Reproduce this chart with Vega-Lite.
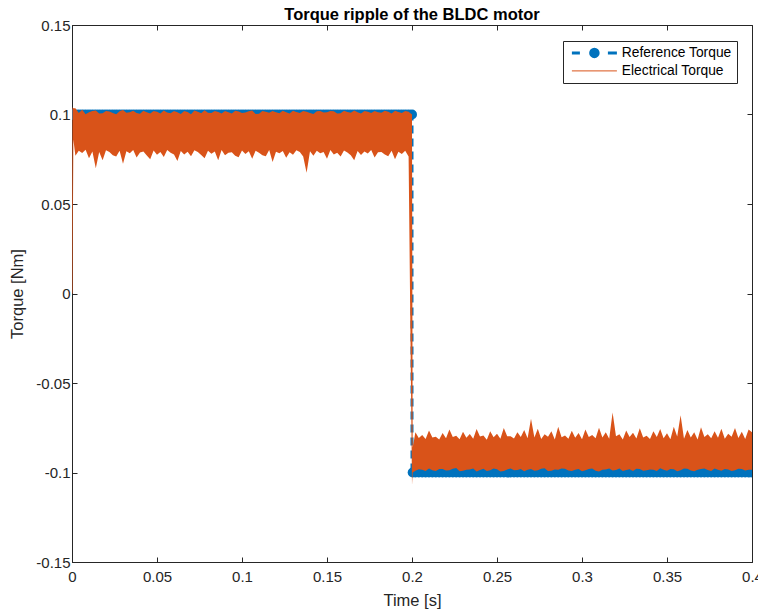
{
  "$schema": "https://vega.github.io/schema/vega-lite/v6.json",
  "autosize": "none",
  "width": 680,
  "height": 537,
  "padding": {"left": 72, "top": 25, "right": 6, "bottom": 54},
  "background": "white",
  "title": {"text": "Torque ripple of the BLDC motor", "font": "Liberation Sans", "fontSize": 16.5, "fontWeight": "bold", "color": "black", "anchor": "middle", "baseline": "alphabetic", "offset": -18},
  "datasets": {
    "refline": [
      {"t": 0, "ref": 0.1, "k": 1},
      {"t": 0.2, "ref": 0.1, "k": 2},
      {"t": 0.2, "ref": -0.1, "k": 3},
      {"t": 0.4, "ref": -0.1, "k": 4}
    ],
    "elec": [
      {"t": 0, "ref": 0.1, "lo": 0, "hi": 0},
      {"t": 0.0003, "ref": 0.1, "lo": 0, "hi": 0.104},
      {"t": 0.0008, "ref": 0.1, "lo": 0.086, "hi": 0.1035},
      {"t": 0.002, "ref": 0.1, "lo": 0.077, "hi": 0.1035},
      {"t": 0.004, "ref": 0.1, "lo": 0.0797, "hi": 0.1009},
      {"t": 0.006, "ref": 0.1, "lo": 0.0785, "hi": 0.1027},
      {"t": 0.008, "ref": 0.1, "lo": 0.0803, "hi": 0.1002},
      {"t": 0.010, "ref": 0.1, "lo": 0.0755, "hi": 0.1012},
      {"t": 0.012, "ref": 0.1, "lo": 0.0793, "hi": 0.1019},
      {"t": 0.014, "ref": 0.1, "lo": 0.070, "hi": 0.1022},
      {"t": 0.016, "ref": 0.1, "lo": 0.079, "hi": 0.1005},
      {"t": 0.018, "ref": 0.1, "lo": 0.0745, "hi": 0.1007},
      {"t": 0.020, "ref": 0.1, "lo": 0.080, "hi": 0.102},
      {"t": 0.022, "ref": 0.1, "lo": 0.079, "hi": 0.1017},
      {"t": 0.024, "ref": 0.1, "lo": 0.0773, "hi": 0.1008},
      {"t": 0.026, "ref": 0.1, "lo": 0.0765, "hi": 0.1002},
      {"t": 0.028, "ref": 0.1, "lo": 0.0798, "hi": 0.1018},
      {"t": 0.030, "ref": 0.1, "lo": 0.0725, "hi": 0.1025},
      {"t": 0.032, "ref": 0.1, "lo": 0.0794, "hi": 0.101},
      {"t": 0.034, "ref": 0.1, "lo": 0.0783, "hi": 0.1012},
      {"t": 0.036, "ref": 0.1, "lo": 0.0801, "hi": 0.1021},
      {"t": 0.038, "ref": 0.1, "lo": 0.076, "hi": 0.1009},
      {"t": 0.040, "ref": 0.1, "lo": 0.0788, "hi": 0.1004},
      {"t": 0.042, "ref": 0.1, "lo": 0.0793, "hi": 0.1021},
      {"t": 0.044, "ref": 0.1, "lo": 0.0771, "hi": 0.1013},
      {"t": 0.046, "ref": 0.1, "lo": 0.075, "hi": 0.1005},
      {"t": 0.048, "ref": 0.1, "lo": 0.0799, "hi": 0.1019},
      {"t": 0.050, "ref": 0.1, "lo": 0.0775, "hi": 0.1015},
      {"t": 0.052, "ref": 0.1, "lo": 0.0791, "hi": 0.1006},
      {"t": 0.054, "ref": 0.1, "lo": 0.0763, "hi": 0.1023},
      {"t": 0.056, "ref": 0.1, "lo": 0.0802, "hi": 0.1011},
      {"t": 0.058, "ref": 0.1, "lo": 0.0787, "hi": 0.1007},
      {"t": 0.060, "ref": 0.1, "lo": 0.0776, "hi": 0.102},
      {"t": 0.062, "ref": 0.1, "lo": 0.074, "hi": 0.1013},
      {"t": 0.064, "ref": 0.1, "lo": 0.0796, "hi": 0.1003},
      {"t": 0.066, "ref": 0.1, "lo": 0.0777, "hi": 0.1019},
      {"t": 0.068, "ref": 0.1, "lo": 0.0792, "hi": 0.1014},
      {"t": 0.070, "ref": 0.1, "lo": 0.0767, "hi": 0.1002},
      {"t": 0.072, "ref": 0.1, "lo": 0.080, "hi": 0.1022},
      {"t": 0.074, "ref": 0.1, "lo": 0.0791, "hi": 0.1016},
      {"t": 0.076, "ref": 0.1, "lo": 0.0774, "hi": 0.1007},
      {"t": 0.078, "ref": 0.1, "lo": 0.0755, "hi": 0.1024},
      {"t": 0.080, "ref": 0.1, "lo": 0.0798, "hi": 0.101},
      {"t": 0.082, "ref": 0.1, "lo": 0.0781, "hi": 0.1008},
      {"t": 0.084, "ref": 0.1, "lo": 0.0793, "hi": 0.102},
      {"t": 0.086, "ref": 0.1, "lo": 0.0745, "hi": 0.1014},
      {"t": 0.088, "ref": 0.1, "lo": 0.0801, "hi": 0.1005},
      {"t": 0.090, "ref": 0.1, "lo": 0.0773, "hi": 0.102},
      {"t": 0.092, "ref": 0.1, "lo": 0.0786, "hi": 0.1012},
      {"t": 0.094, "ref": 0.1, "lo": 0.0789, "hi": 0.1006},
      {"t": 0.096, "ref": 0.1, "lo": 0.077, "hi": 0.1021},
      {"t": 0.098, "ref": 0.1, "lo": 0.0761, "hi": 0.1017},
      {"t": 0.100, "ref": 0.1, "lo": 0.0799, "hi": 0.1009},
      {"t": 0.102, "ref": 0.1, "lo": 0.0779, "hi": 0.1011},
      {"t": 0.104, "ref": 0.1, "lo": 0.0794, "hi": 0.1018},
      {"t": 0.106, "ref": 0.1, "lo": 0.0753, "hi": 0.1022},
      {"t": 0.108, "ref": 0.1, "lo": 0.0797, "hi": 0.1003},
      {"t": 0.110, "ref": 0.1, "lo": 0.0786, "hi": 0.1004},
      {"t": 0.112, "ref": 0.1, "lo": 0.0772, "hi": 0.1019},
      {"t": 0.114, "ref": 0.1, "lo": 0.0767, "hi": 0.1015},
      {"t": 0.116, "ref": 0.1, "lo": 0.0801, "hi": 0.101},
      {"t": 0.118, "ref": 0.1, "lo": 0.0735, "hi": 0.1019},
      {"t": 0.120, "ref": 0.1, "lo": 0.0792, "hi": 0.1013},
      {"t": 0.122, "ref": 0.1, "lo": 0.0783, "hi": 0.1007},
      {"t": 0.124, "ref": 0.1, "lo": 0.0796, "hi": 0.1021},
      {"t": 0.126, "ref": 0.1, "lo": 0.0758, "hi": 0.1013},
      {"t": 0.128, "ref": 0.1, "lo": 0.0789, "hi": 0.1005},
      {"t": 0.130, "ref": 0.1, "lo": 0.0775, "hi": 0.1021},
      {"t": 0.132, "ref": 0.1, "lo": 0.080, "hi": 0.1014},
      {"t": 0.134, "ref": 0.1, "lo": 0.079, "hi": 0.1009},
      {"t": 0.136, "ref": 0.1, "lo": 0.0766, "hi": 0.102},
      {"t": 0.138, "ref": 0.1, "lo": 0.0675, "hi": 0.1016},
      {"t": 0.140, "ref": 0.1, "lo": 0.0794, "hi": 0.1008},
      {"t": 0.142, "ref": 0.1, "lo": 0.077, "hi": 0.1003},
      {"t": 0.144, "ref": 0.1, "lo": 0.0798, "hi": 0.1018},
      {"t": 0.146, "ref": 0.1, "lo": 0.0784, "hi": 0.102},
      {"t": 0.148, "ref": 0.1, "lo": 0.0791, "hi": 0.1011},
      {"t": 0.150, "ref": 0.1, "lo": 0.0753, "hi": 0.1012},
      {"t": 0.152, "ref": 0.1, "lo": 0.0802, "hi": 0.1019},
      {"t": 0.154, "ref": 0.1, "lo": 0.0777, "hi": 0.1018},
      {"t": 0.156, "ref": 0.1, "lo": 0.0787, "hi": 0.1006},
      {"t": 0.158, "ref": 0.1, "lo": 0.0765, "hi": 0.1007},
      {"t": 0.160, "ref": 0.1, "lo": 0.0799, "hi": 0.1021},
      {"t": 0.162, "ref": 0.1, "lo": 0.0788, "hi": 0.1014},
      {"t": 0.164, "ref": 0.1, "lo": 0.0773, "hi": 0.101},
      {"t": 0.166, "ref": 0.1, "lo": 0.0745, "hi": 0.1022},
      {"t": 0.168, "ref": 0.1, "lo": 0.0796, "hi": 0.1012},
      {"t": 0.170, "ref": 0.1, "lo": 0.0774, "hi": 0.1006},
      {"t": 0.172, "ref": 0.1, "lo": 0.0793, "hi": 0.102},
      {"t": 0.174, "ref": 0.1, "lo": 0.0782, "hi": 0.1015},
      {"t": 0.176, "ref": 0.1, "lo": 0.0801, "hi": 0.1008},
      {"t": 0.178, "ref": 0.1, "lo": 0.076, "hi": 0.1019},
      {"t": 0.180, "ref": 0.1, "lo": 0.0789, "hi": 0.1013},
      {"t": 0.182, "ref": 0.1, "lo": 0.0791, "hi": 0.101},
      {"t": 0.184, "ref": 0.1, "lo": 0.0776, "hi": 0.1021},
      {"t": 0.186, "ref": 0.1, "lo": 0.0767, "hi": 0.1016},
      {"t": 0.188, "ref": 0.1, "lo": 0.0798, "hi": 0.1005},
      {"t": 0.190, "ref": 0.1, "lo": 0.075, "hi": 0.1021},
      {"t": 0.192, "ref": 0.1, "lo": 0.0792, "hi": 0.1014},
      {"t": 0.194, "ref": 0.1, "lo": 0.078, "hi": 0.1008},
      {"t": 0.196, "ref": 0.1, "lo": 0.0797, "hi": 0.1019},
      {"t": 0.198, "ref": 0.1, "lo": 0.0765, "hi": 0.1015},
      {"t": 0.2, "ref": 0.1, "lo": -0.107, "hi": 0.1},
      {"t": 0.2004, "ref": -0.1, "lo": -0.1, "hi": -0.086},
      {"t": 0.202, "ref": -0.1, "lo": -0.099, "hi": -0.0775},
      {"t": 0.204, "ref": -0.1, "lo": -0.0982, "hi": -0.0807},
      {"t": 0.206, "ref": -0.1, "lo": -0.0985, "hi": -0.079},
      {"t": 0.208, "ref": -0.1, "lo": -0.0991, "hi": -0.0813},
      {"t": 0.210, "ref": -0.1, "lo": -0.0978, "hi": -0.0765},
      {"t": 0.212, "ref": -0.1, "lo": -0.0987, "hi": -0.0804},
      {"t": 0.214, "ref": -0.1, "lo": -0.0992, "hi": -0.080},
      {"t": 0.216, "ref": -0.1, "lo": -0.0981, "hi": -0.0816},
      {"t": 0.218, "ref": -0.1, "lo": -0.098, "hi": -0.078},
      {"t": 0.220, "ref": -0.1, "lo": -0.0989, "hi": -0.0809},
      {"t": 0.222, "ref": -0.1, "lo": -0.0988, "hi": -0.076},
      {"t": 0.224, "ref": -0.1, "lo": -0.0979, "hi": -0.0801},
      {"t": 0.226, "ref": -0.1, "lo": -0.0975, "hi": -0.0795},
      {"t": 0.228, "ref": -0.1, "lo": -0.0993, "hi": -0.0814},
      {"t": 0.230, "ref": -0.1, "lo": -0.099, "hi": -0.0773},
      {"t": 0.232, "ref": -0.1, "lo": -0.0984, "hi": -0.0806},
      {"t": 0.234, "ref": -0.1, "lo": -0.0983, "hi": -0.0785},
      {"t": 0.236, "ref": -0.1, "lo": -0.0977, "hi": -0.0811},
      {"t": 0.238, "ref": -0.1, "lo": -0.0995, "hi": -0.0757},
      {"t": 0.240, "ref": -0.1, "lo": -0.0986, "hi": -0.0799},
      {"t": 0.242, "ref": -0.1, "lo": -0.0979, "hi": -0.0793},
      {"t": 0.244, "ref": -0.1, "lo": -0.0991, "hi": -0.0817},
      {"t": 0.246, "ref": -0.1, "lo": -0.0987, "hi": -0.077},
      {"t": 0.248, "ref": -0.1, "lo": -0.0978, "hi": -0.0803},
      {"t": 0.250, "ref": -0.1, "lo": -0.0982, "hi": -0.0783},
      {"t": 0.252, "ref": -0.1, "lo": -0.0994, "hi": -0.0812},
      {"t": 0.254, "ref": -0.1, "lo": -0.0991, "hi": -0.0751},
      {"t": 0.256, "ref": -0.1, "lo": -0.0983, "hi": -0.0797},
      {"t": 0.258, "ref": -0.1, "lo": -0.0977, "hi": -0.0797},
      {"t": 0.260, "ref": -0.1, "lo": -0.0988, "hi": -0.081},
      {"t": 0.262, "ref": -0.1, "lo": -0.0986, "hi": -0.0775},
      {"t": 0.264, "ref": -0.1, "lo": -0.098, "hi": -0.0802},
      {"t": 0.266, "ref": -0.1, "lo": -0.0993, "hi": -0.0763},
      {"t": 0.268, "ref": -0.1, "lo": -0.0985, "hi": -0.0808},
      {"t": 0.270, "ref": -0.1, "lo": -0.098, "hi": -0.070},
      {"t": 0.272, "ref": -0.1, "lo": -0.099, "hi": -0.0805},
      {"t": 0.274, "ref": -0.1, "lo": -0.0988, "hi": -0.0755},
      {"t": 0.276, "ref": -0.1, "lo": -0.0979, "hi": -0.0813},
      {"t": 0.278, "ref": -0.1, "lo": -0.0976, "hi": -0.0787},
      {"t": 0.280, "ref": -0.1, "lo": -0.0992, "hi": -0.080},
      {"t": 0.282, "ref": -0.1, "lo": -0.099, "hi": -0.077},
      {"t": 0.284, "ref": -0.1, "lo": -0.0983, "hi": -0.0815},
      {"t": 0.286, "ref": -0.1, "lo": -0.0984, "hi": -0.0745},
      {"t": 0.288, "ref": -0.1, "lo": -0.0978, "hi": -0.0803},
      {"t": 0.290, "ref": -0.1, "lo": -0.0979, "hi": -0.0793},
      {"t": 0.292, "ref": -0.1, "lo": -0.0989, "hi": -0.0811},
      {"t": 0.294, "ref": -0.1, "lo": -0.0992, "hi": -0.0767},
      {"t": 0.296, "ref": -0.1, "lo": -0.0985, "hi": -0.0806},
      {"t": 0.298, "ref": -0.1, "lo": -0.0981, "hi": -0.078},
      {"t": 0.300, "ref": -0.1, "lo": -0.0993, "hi": -0.0814},
      {"t": 0.302, "ref": -0.1, "lo": -0.0987, "hi": -0.076},
      {"t": 0.304, "ref": -0.1, "lo": -0.098, "hi": -0.0801},
      {"t": 0.306, "ref": -0.1, "lo": -0.0978, "hi": -0.0791},
      {"t": 0.308, "ref": -0.1, "lo": -0.099, "hi": -0.0809},
      {"t": 0.310, "ref": -0.1, "lo": -0.0994, "hi": -0.075},
      {"t": 0.312, "ref": -0.1, "lo": -0.0984, "hi": -0.0804},
      {"t": 0.314, "ref": -0.1, "lo": -0.0983, "hi": -0.0775},
      {"t": 0.316, "ref": -0.1, "lo": -0.0977, "hi": -0.0812},
      {"t": 0.318, "ref": -0.1, "lo": -0.0989, "hi": -0.0665},
      {"t": 0.320, "ref": -0.1, "lo": -0.0986, "hi": -0.0798},
      {"t": 0.322, "ref": -0.1, "lo": -0.0977, "hi": -0.0787},
      {"t": 0.324, "ref": -0.1, "lo": -0.0991, "hi": -0.0815},
      {"t": 0.326, "ref": -0.1, "lo": -0.0986, "hi": -0.0765},
      {"t": 0.328, "ref": -0.1, "lo": -0.0982, "hi": -0.0802},
      {"t": 0.330, "ref": -0.1, "lo": -0.0991, "hi": -0.0778},
      {"t": 0.332, "ref": -0.1, "lo": -0.0979, "hi": -0.081},
      {"t": 0.334, "ref": -0.1, "lo": -0.098, "hi": -0.0753},
      {"t": 0.336, "ref": -0.1, "lo": -0.099, "hi": -0.0805},
      {"t": 0.338, "ref": -0.1, "lo": -0.0988, "hi": -0.0795},
      {"t": 0.340, "ref": -0.1, "lo": -0.0983, "hi": -0.0813},
      {"t": 0.342, "ref": -0.1, "lo": -0.0984, "hi": -0.077},
      {"t": 0.344, "ref": -0.1, "lo": -0.0992, "hi": -0.0801},
      {"t": 0.346, "ref": -0.1, "lo": -0.0976, "hi": -0.0757},
      {"t": 0.348, "ref": -0.1, "lo": -0.0985, "hi": -0.0808},
      {"t": 0.350, "ref": -0.1, "lo": -0.099, "hi": -0.0781},
      {"t": 0.352, "ref": -0.1, "lo": -0.0981, "hi": -0.0814},
      {"t": 0.354, "ref": -0.1, "lo": -0.0982, "hi": -0.0745},
      {"t": 0.356, "ref": -0.1, "lo": -0.0993, "hi": -0.0799},
      {"t": 0.358, "ref": -0.1, "lo": -0.0987, "hi": -0.068},
      {"t": 0.360, "ref": -0.1, "lo": -0.0978, "hi": -0.0811},
      {"t": 0.362, "ref": -0.1, "lo": -0.0979, "hi": -0.0763},
      {"t": 0.364, "ref": -0.1, "lo": -0.0989, "hi": -0.0804},
      {"t": 0.366, "ref": -0.1, "lo": -0.0993, "hi": -0.0775},
      {"t": 0.368, "ref": -0.1, "lo": -0.0984, "hi": -0.0816},
      {"t": 0.370, "ref": -0.1, "lo": -0.0981, "hi": -0.0747},
      {"t": 0.372, "ref": -0.1, "lo": -0.0977, "hi": -0.0801},
      {"t": 0.374, "ref": -0.1, "lo": -0.0986, "hi": -0.0787},
      {"t": 0.376, "ref": -0.1, "lo": -0.0991, "hi": -0.0809},
      {"t": 0.378, "ref": -0.1, "lo": -0.0978, "hi": -0.0769},
      {"t": 0.380, "ref": -0.1, "lo": -0.0985, "hi": -0.0806},
      {"t": 0.382, "ref": -0.1, "lo": -0.099, "hi": -0.0755},
      {"t": 0.384, "ref": -0.1, "lo": -0.098, "hi": -0.0812},
      {"t": 0.386, "ref": -0.1, "lo": -0.0983, "hi": -0.0783},
      {"t": 0.388, "ref": -0.1, "lo": -0.0992, "hi": -0.080},
      {"t": 0.390, "ref": -0.1, "lo": -0.0988, "hi": -0.0751},
      {"t": 0.392, "ref": -0.1, "lo": -0.0979, "hi": -0.0807},
      {"t": 0.394, "ref": -0.1, "lo": -0.098, "hi": -0.0773},
      {"t": 0.396, "ref": -0.1, "lo": -0.0989, "hi": -0.0813},
      {"t": 0.398, "ref": -0.1, "lo": -0.0985, "hi": -0.076},
      {"t": 0.4, "ref": -0.1, "lo": -0.0985, "hi": -0.0775}
    ]
  },
  "layer": [
    {
      "data": {"name": "refline"},
      "mark": {"type": "line", "strokeWidth": 3, "strokeDash": [8, 5], "clip": true},
      "encoding": {
        "x": {"field": "t", "type": "quantitative", "scale": {"domain": [0, 0.4], "nice": false, "zero": false}, "axis": null},
        "y": {"field": "ref", "type": "quantitative", "scale": {"domain": [-0.15, 0.15], "nice": false, "zero": false}, "axis": null},
        "order": {"field": "k", "type": "quantitative"},
        "color": {"datum": "Reference Torque", "type": "nominal", "legend": {
          "orient": "none", "legendX": 491, "legendY": 16,
          "encode": {"symbols": {"update": {
            "shape": {"signal": "datum.value === 'Reference Torque' ? 'M-0.6,0H1M6.6,0H8.4M3.15,0A0.75,0.75 0 1,1 4.65,0A0.75,0.75 0 1,1 3.15,0' : 'M-0.6,0H8.4'"},
            "fill": {"signal": "datum.value === 'Reference Torque' ? '#0072BD' : 'transparent'"},
            "stroke": {"signal": "datum.value === 'Reference Torque' ? '#0072BD' : '#D95319'"},
            "strokeWidth": {"signal": "datum.value === 'Reference Torque' ? 3 : 1"},
            "opacity": {"value": 1}
          }}}
        }}
      }
    },
    {
      "data": {"name": "elec"},
      "mark": {"type": "point", "filled": true, "opacity": 1, "size": 100, "color": "#0072BD", "clip": true},
      "encoding": {
        "x": {"field": "t", "type": "quantitative", "axis": {"orient": "top", "labels": false, "title": null, "domain": false, "values": [0, 0.05, 0.1, 0.15, 0.2, 0.25, 0.3, 0.35, 0.4]}},
        "y": {"field": "ref", "type": "quantitative", "axis": {"orient": "right", "labels": false, "title": null, "domain": false, "values": [-0.15, -0.1, -0.05, 0, 0.05, 0.1, 0.15]}}
      }
    },
    {
      "data": {"name": "elec"},
      "mark": {"type": "area", "opacity": 1, "clip": true},
      "encoding": {
        "x": {"field": "t", "type": "quantitative", "axis": {"title": "Time [s]", "values": [0, 0.05, 0.1, 0.15, 0.2, 0.25, 0.3, 0.35, 0.4], "labelExpr": "replace(format(datum.value, '~g'), '\u2212', '-')", "labelPadding": 12, "titlePadding": 8, "labelFlush": false}},
        "y": {"field": "hi", "type": "quantitative", "axis": {"title": "Torque [Nm]", "values": [-0.15, -0.1, -0.05, 0, 0.05, 0.1, 0.15], "labelExpr": "replace(format(datum.value, '~g'), '\u2212', '-')", "labelPadding": 7, "titlePadding": 10}},
        "y2": {"field": "lo"},
        "color": {"datum": "Electrical Torque", "type": "nominal", "legend": {
          "orient": "none", "legendX": 491, "legendY": 16,
          "encode": {"symbols": {"update": {
            "shape": {"signal": "datum.value === 'Reference Torque' ? 'M-0.6,0H1M6.6,0H8.4M3.15,0A0.75,0.75 0 1,1 4.65,0A0.75,0.75 0 1,1 3.15,0' : 'M-0.6,0H8.4'"},
            "fill": {"signal": "datum.value === 'Reference Torque' ? '#0072BD' : 'transparent'"},
            "stroke": {"signal": "datum.value === 'Reference Torque' ? '#0072BD' : '#D95319'"},
            "strokeWidth": {"signal": "datum.value === 'Reference Torque' ? 3 : 1"},
            "opacity": {"value": 1}
          }}}
        }}
      }
    }
  ],
  "resolve": {"axis": {"x": "independent", "y": "independent"}},
  "config": {
    "view": {"stroke": "#262626", "strokeWidth": 1},
    "axis": {
      "grid": false,
      "domainColor": "#262626",
      "tickColor": "#262626",
      "tickSize": -5,
      "labelColor": "#262626",
      "labelFont": "Liberation Sans",
      "labelFontSize": 15,
      "titleFont": "Liberation Sans",
      "titleFontSize": 16.5,
      "titleFontWeight": "normal",
      "titleColor": "#262626"
    },
    "range": {"category": ["#0072BD", "#D95319"]},
    "legend": {
      "title": null,
      "padding": 5,
      "strokeColor": "#262626",
      "fillColor": "white",
      "labelFont": "Liberation Sans",
      "labelFontSize": 13.8,
      "labelColor": "black",
      "symbolSize": 100,
      "labelOffset": 40,
      "rowPadding": 0,
      "symbolType": "M-0.6,0H8.4",
      "symbolStrokeWidth": 1
    }
  }
}
